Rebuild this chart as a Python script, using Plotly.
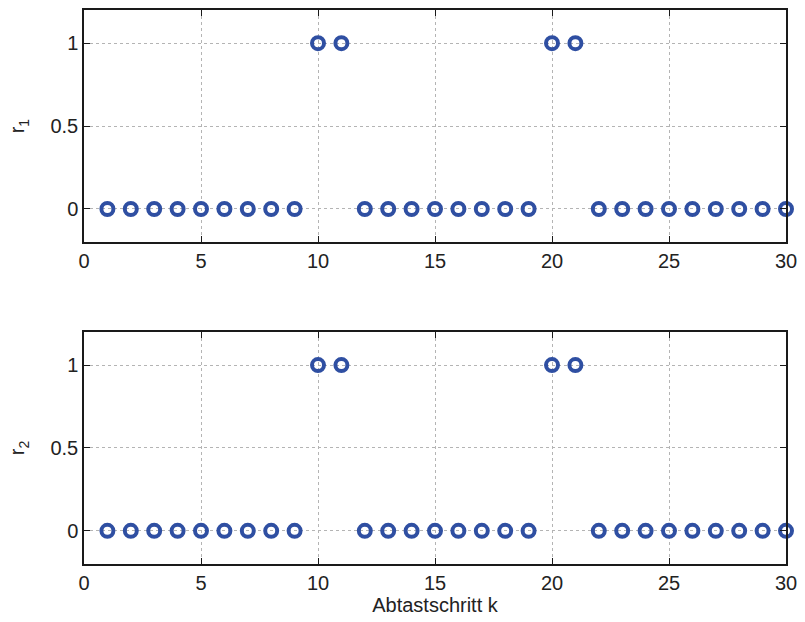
import plotly.graph_objects as go
from plotly.subplots import make_subplots

k = list(range(1, 31))
r1 = [0, 0, 0, 0, 0, 0, 0, 0, 0, 1, 1, 0, 0, 0, 0, 0, 0, 0, 0, 1, 1, 0, 0, 0, 0, 0, 0, 0, 0, 0]
r2 = [0, 0, 0, 0, 0, 0, 0, 0, 0, 1, 1, 0, 0, 0, 0, 0, 0, 0, 0, 1, 1, 0, 0, 0, 0, 0, 0, 0, 0, 0]
x_ticks = [0, 5, 10, 15, 20, 25, 30]
y_ticks = [0, 0.5, 1]
y_labels = ["0", "0.5", "1"]

blue = "#2f4fa2"
fig = make_subplots(rows=2, cols=1)

for i, r in enumerate([r1, r2], start=1):
    fig.add_trace(go.Scatter(
        x=k, y=r, mode="markers",
        marker=dict(symbol="circle-open", size=12, color=blue, line=dict(width=4, color=blue)),
        showlegend=False, cliponaxis=False), row=i, col=1)

font_fam = "Liberation Sans, Arial, sans-serif"
axis_common = dict(
    showline=True, linecolor="#1a1a1a", linewidth=1.5, mirror="ticks",
    ticks="inside", ticklen=6, tickcolor="#1a1a1a", tickwidth=1,
    showgrid=True, gridcolor="#b4b4b4", griddash="dot", gridwidth=1,
    zeroline=False, tickfont=dict(family=font_fam, size=20, color="#222222"),
)
for i in (1, 2):
    fig.update_xaxes(range=[0, 30], tickvals=x_ticks, row=i, col=1, **axis_common)
    fig.update_yaxes(range=[-0.2, 1.2], tickvals=y_ticks, ticktext=y_labels, row=i, col=1, **axis_common)

label_font = dict(family=font_fam, size=20, color="#222222")
fig.update_yaxes(title=dict(text="r<sub>1</sub>", font=label_font, standoff=20), row=1, col=1)
fig.update_yaxes(title=dict(text="r<sub>2</sub>", font=label_font, standoff=20), row=2, col=1)
fig.update_xaxes(title=dict(text="Abtastschritt k", font=label_font, standoff=2), row=2, col=1)

fig.update_layout(
    width=805, height=622,
    margin=dict(l=84, r=16, t=8, b=58),
    plot_bgcolor="white", paper_bgcolor="white",
)
fig.update_xaxes(domain=[0, 1])
fig.update_yaxes(domain=[0.581, 1.0], row=1, col=1)
fig.update_yaxes(domain=[0.0, 0.419], row=2, col=1)

fig.write_html(
    "out.html",
    config={"displayModeBar": False},
    post_script="document.body.style.margin='0px';document.body.style.overflow='hidden';",
)
